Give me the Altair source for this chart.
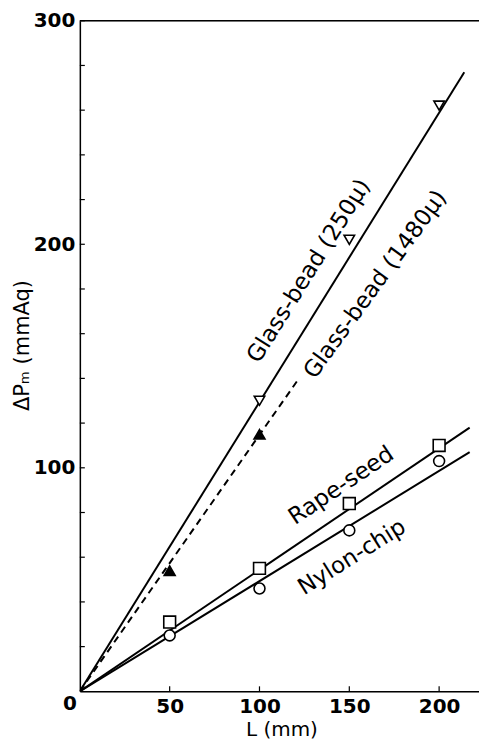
import altair as alt
import pandas as pd

# --- data ---
x_tick_values = [50, 100, 150, 200]
y_tick_values = list(range(20, 301, 20))
x_label_values = [50, 100, 150, 200]
y_label_values = [100, 200, 300]

g250_L = [100, 150, 200]
g250_dp = [130, 202, 262]
g1480_L = [50, 100]
g1480_dp = [54, 115]
rape_L = [50, 100, 150, 200]
rape_dp = [31, 55, 84, 110]
nylon_L = [50, 100, 150, 200]
nylon_dp = [25, 46, 72, 103]

line_series = ["g250", "g1480", "rape", "nylon"]
line_dash = ["solid", "dashed", "solid", "solid"]
line_end_L = [214, 122, 217, 217]
line_end_dp = [277, 140, 118, 107]

label_text = ["Glass-bead  (250\u03bc)", "Glass-bead  (1480\u03bc)", "Rape-seed", "Nylon-chip"]
label_L = [127.5, 164.5, 145.5, 151.5]
label_dp = [188, 182, 92, 60]
label_angle = [302, 306, 326, 328]

W, H = 400, 672
FONT = "DejaVu Sans"

xs = alt.Scale(domain=[0, 222.2], nice=False, zero=True)
ys = alt.Scale(domain=[0, 300], nice=False)

x_axis = alt.Axis(values=x_label_values, title="L (mm)", tickSize=0, grid=False,
                  labelFontSize=20, labelFont=FONT, labelFontWeight=600,
                  labelColor="black", labelPadding=5, domainColor="black",
                  domainWidth=1.5, titleFontSize=20, titleFont=FONT,
                  titleFontWeight="normal", titleColor="black",
                  titleY=38, titleBaseline="middle", titleX=202)
y_axis = alt.Axis(values=y_label_values, title="\u0394P\u2098 (mmAq)", tickSize=0, grid=False,
                  labelFontSize=20, labelFont=FONT, labelFontWeight=600,
                  labelColor="black", labelPadding=5, domainColor="black",
                  domainWidth=1.5, titleFontSize=21, titleFont=FONT,
                  titleFontWeight="normal", titleColor="black",
                  titleX=-57, titleY=325, titleAngle=270, titleBaseline="middle")

X = alt.X("L:Q", scale=xs, axis=x_axis)
Y = alt.Y("dp:Q", scale=ys, axis=y_axis)

lines_rows = []
for s, d, l, v in zip(line_series, line_dash, line_end_L, line_end_dp):
    lines_rows.append({"series": s, "dash": d, "L": 0, "dp": 0})
    lines_rows.append({"series": s, "dash": d, "L": l, "dp": v})
lines_df = pd.DataFrame(lines_rows)

solid = alt.Chart(lines_df[lines_df.dash == "solid"]).mark_line(
    color="black", strokeWidth=2, clip=True).encode(x=X, y=Y, detail="series:N")
dashed = alt.Chart(lines_df[lines_df.dash == "dashed"]).mark_line(
    color="black", strokeWidth=2, strokeDash=[7, 5], clip=True).encode(x=X, y=Y, detail="series:N")

def pts(Ls, dps, shape, filled, size):
    df = pd.DataFrame({"L": Ls, "dp": dps})
    return alt.Chart(df).mark_point(
        shape=shape, filled=True, fill="black" if filled else "white",
        stroke="black", strokeWidth=1.6, size=size, opacity=1).encode(x=X, y=Y)

p250 = pts(g250_L, g250_dp, "triangle-down", False, 110)
p1480 = pts(g1480_L, g1480_dp, "triangle-up", True, 120)
prape = pts(rape_L, rape_dp, "square", False, 140)
pnylon = pts(nylon_L, nylon_dp, "circle", False, 120)

labels_df = pd.DataFrame({"text": label_text, "L": label_L, "dp": label_dp, "angle": label_angle})
labels = alt.Chart(labels_df).mark_text(
    font=FONT, fontSize=23, color="black", align="center", baseline="middle").encode(
    x=X, y=Y, text="text:N", angle=alt.Angle("angle:Q", scale=None))

yt = alt.Chart(pd.DataFrame({"dp": y_tick_values})).mark_rule(color="black", strokeWidth=1.2).encode(
    y=Y, x=alt.value(0), x2=alt.value(5))
xt = alt.Chart(pd.DataFrame({"L": x_tick_values})).mark_rule(color="black", strokeWidth=1.2).encode(
    x=X, y=alt.value(H), y2=alt.value(H - 5))
top = alt.Chart(pd.DataFrame({"dp": [300]})).mark_rule(color="black", strokeWidth=1.5).encode(
    y=Y, x=alt.value(0), x2=alt.value(W))
zero = alt.Chart(pd.DataFrame({"t": ["0"]})).mark_text(
    font=FONT, fontSize=20, fontWeight=600, color="black", align="center", baseline="middle").encode(
    text="t:N", x=alt.value(-10), y=alt.value(H + 13))

chart = alt.layer(top, yt, xt, solid, dashed, p250, p1480, prape, pnylon, labels, zero).properties(
    width=W, height=H,
    autosize=alt.AutoSizeParams(type="none"),
    padding={"left": 72, "top": 12, "right": 0, "bottom": 48},
).configure_view(stroke=None).configure(background="white")

chart.save("out.html", embed_options={"renderer": "svg", "actions": False})
